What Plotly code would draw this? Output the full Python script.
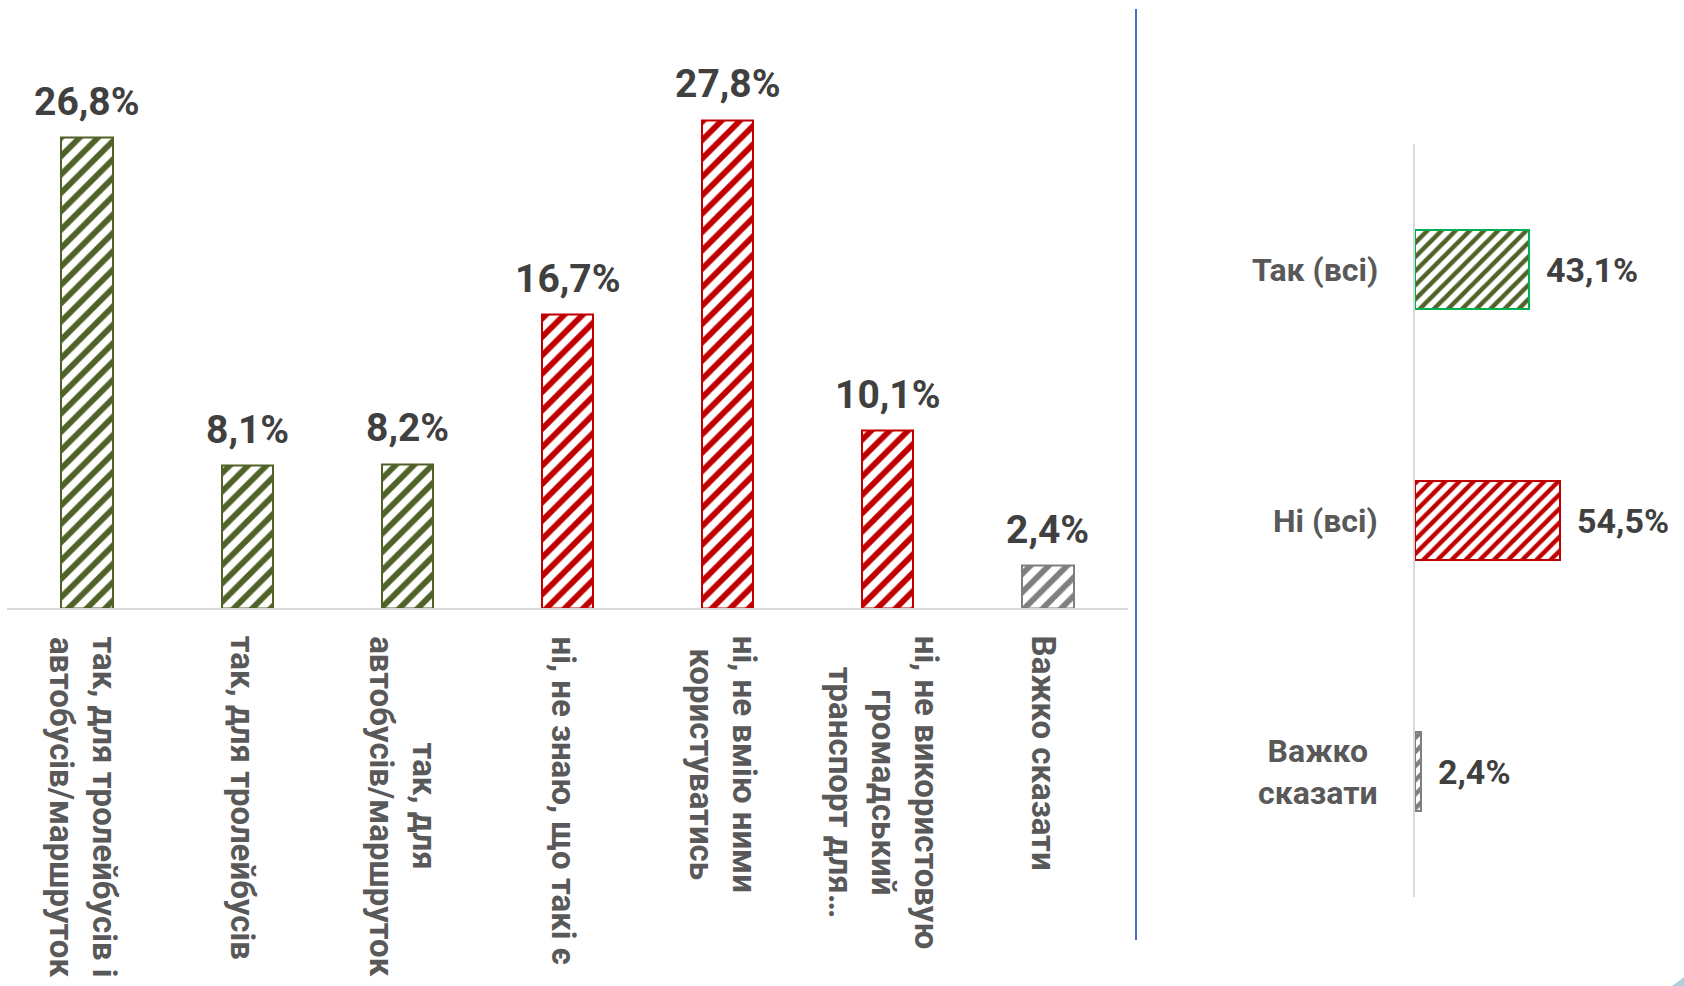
import plotly.graph_objects as go

W, H = 1684, 986

# ---- data ----
left_categories = [
    "так, для тролейбусів і<br>автобусів/маршруток",
    "так, для тролейбусів",
    "так, для<br>автобусів/маршруток",
    "ні, не знаю, що такі є",
    "ні, не вмію ними<br>користуватись",
    "ні, не використовую<br>громадський<br>транспорт для…",
    "Важко сказати",
]
left_values = [26.8, 8.1, 8.2, 16.7, 27.8, 10.1, 2.4]
left_groups = ["yes", "yes", "yes", "no", "no", "no", "dk"]

right_categories = ["Так (всі)", "Ні (всі)", "Важко<br>сказати"]
right_values = [43.1, 54.5, 2.4]
right_groups = ["yes", "no", "dk"]

hatch_color = {"yes": "#4F6228", "no": "#C00000", "dk": "#7F7F7F"}
right_outline = {"yes": "#00B050", "no": "#C00000", "dk": "#7F7F7F"}

FONT = "Roboto"
LABEL_C = "#595959"
VALUE_C = "#404040"


def fmt(v):
    return f"{v:.1f}".replace(".", ",") + "%"


fig = go.Figure()

fig.add_trace(go.Bar(
    x=left_categories, y=left_values, width=0.32,
    xaxis="x", yaxis="y", hoverinfo="skip", showlegend=False,
    marker=dict(
        color="white",
        line=dict(color=[hatch_color[g] for g in left_groups], width=2),
        pattern=dict(shape="/", fgcolor=[hatch_color[g] for g in left_groups],
                     bgcolor="white", fgopacity=1, size=13, solidity=0.45),
    ),
))

fig.add_trace(go.Bar(
    y=right_categories, x=right_values, orientation="h", width=0.315,
    xaxis="x2", yaxis="y2", hoverinfo="skip", showlegend=False,
    marker=dict(
        color="white",
        line=dict(color=[right_outline[g] for g in right_groups], width=2),
        pattern=dict(shape="/", fgcolor=[hatch_color[g] for g in right_groups],
                     bgcolor="white", fgopacity=1, size=10, solidity=0.45),
    ),
))

annotations = []
for c, v in zip(left_categories, left_values):
    annotations.append(dict(
        x=c, y=v, xref="x", yref="y", text=fmt(v), showarrow=False,
        yanchor="middle", xanchor="center", yshift=36,
        font=dict(family=FONT, size=39, color=VALUE_C, weight="bold"),
    ))
    annotations.append(dict(
        x=c, y=0, xref="x", yref="y", text=c, showarrow=False,
        textangle=90, yanchor="top", xanchor="center", yshift=-26, xshift=-4,
        align="center",
        font=dict(family=FONT, size=33, color=LABEL_C, weight="bold"),
    ))

for c, v in zip(right_categories, right_values):
    annotations.append(dict(
        x=0, y=c, xref="x2", yref="y2", text=c, showarrow=False,
        xanchor="right", yanchor="middle", xshift=-35, align="center",
        font=dict(family=FONT, size=32, color=LABEL_C, weight="bold"),
    ))
    annotations.append(dict(
        x=v, y=c, xref="x2", yref="y2", text=fmt(v), showarrow=False,
        xanchor="left", yanchor="middle", xshift=15,
        font=dict(family=FONT, size=34, color=VALUE_C, weight="bold"),
    ))

fig.update_layout(
    width=W, height=H,
    margin=dict(l=0, r=0, t=0, b=0),
    paper_bgcolor="white", plot_bgcolor="white",
    bargap=0,
    annotations=annotations,
    xaxis=dict(domain=[7 / W, 1128 / W], range=[-0.5, 6.5], anchor="y",
               showline=True, linecolor="#D9D9D9", linewidth=2,
               showticklabels=False, ticks="", showgrid=False, zeroline=False,
               fixedrange=True),
    yaxis=dict(domain=[(H - 608) / H, (H - 81.5) / H], range=[0, 30], anchor="x",
               visible=False, fixedrange=True),
    xaxis2=dict(domain=[1415 / W, (1415 + 265.5) / W], range=[0, 100], anchor="y2",
                visible=False, fixedrange=True),
    yaxis2=dict(domain=[(H - 897) / H, (H - 144) / H], range=[2.5, -0.5], anchor="x2",
                showline=True, linecolor="#D9D9D9", linewidth=2,
                showticklabels=False, ticks="", showgrid=False, zeroline=False,
                fixedrange=True),
    shapes=[
        dict(type="line", xref="paper", yref="paper",
             x0=1136 / W, x1=1136 / W, y0=(H - 9) / H, y1=(H - 940) / H,
             line=dict(color="#4472C4", width=2)),
        dict(type="path", xref="paper", yref="paper",
             path=f"M {1672 / W},0 L 1,0 L 1,{9 / H} Z",
             fillcolor="#AFCFDA", line=dict(width=0)),
    ],
)

fig.write_html("out.html", config={"displayModeBar": False},
               post_script="document.body.style.margin='0';")
